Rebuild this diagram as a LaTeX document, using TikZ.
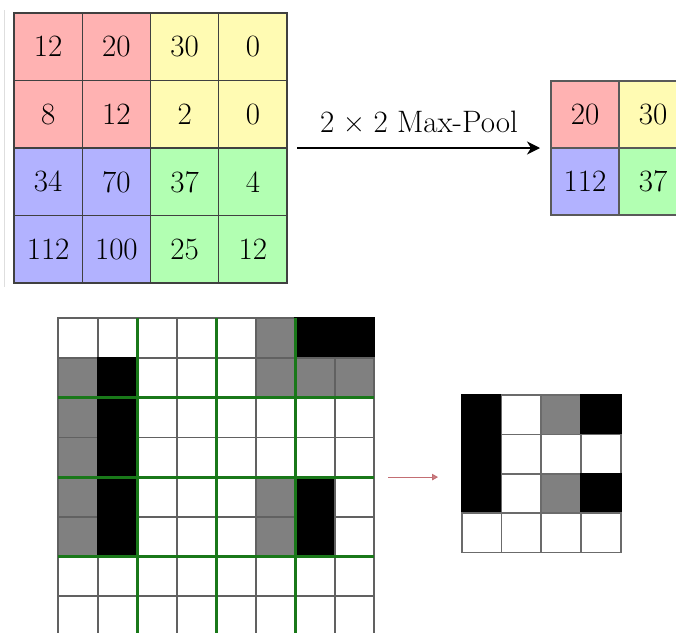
\documentclass[tikz,border=0pt]{standalone}
\usepackage{fontspec}
\usetikzlibrary{arrows.meta}
\colorlet{cR}{red!30}
\colorlet{cY}{yellow!30}
\colorlet{cB}{blue!30}
\colorlet{cG}{green!30}
\definecolor{gridgreen}{RGB}{25,120,25}
\definecolor{arrowred}{RGB}{195,110,115}
\begin{document}
\begin{tikzpicture}[x=1pt,y=-1pt,
  numcell/.style={draw=black!75, line width=1.4pt, minimum width=68.25pt, minimum height=67.5pt,
    inner sep=0pt, outer sep=0pt, anchor=north west, font=\fontsize{31}{34}\selectfont},
  poolcell/.style={draw=black!65, line width=1.4pt, minimum width=68pt, minimum height=67pt,
    inner sep=0pt, outer sep=0pt, anchor=north west, font=\fontsize{31}{34}\selectfont},
  bitcell/.style={draw=black!62, line width=1.8pt, minimum width=39.5pt, minimum height=39.7pt,
    inner sep=0pt, outer sep=0pt, anchor=north west},
  smallcell/.style={draw=black!58, line width=1.7pt, minimum width=39.75pt, minimum height=39.4pt,
    inner sep=0pt, outer sep=0pt, anchor=north west},
  wc/.style={fill=white},
  gc/.style={fill=gray},
  kc/.style={fill=black, draw=black},
  gline/.style={draw=gridgreen, line width=3pt},
  poolarrow/.style={-{Stealth[length=13pt,width=13pt,inset=4pt]}, line width=1.7pt},
  redarrow/.style={draw=arrowred, line width=1pt, -{Triangle[length=6pt,width=6.5pt,fill=arrowred!85]}}
]
\clip (0,0) rectangle (676,632);
\fill[white] (0,0) rectangle (676,632);
% faint left edge line
\draw[black!13, line width=1.5pt] (4.5,10) -- (4.5,287);

% top-left 4x4 input
\foreach \r/\vals in {0/{12/cR,20/cR,30/cY,0/cY},1/{8/cR,12/cR,2/cY,0/cY},
                      2/{34/cB,70/cB,37/cG,4/cG},3/{112/cB,100/cB,25/cG,12/cG}}{
  \foreach \v/\col [count=\c from 0] in \vals {
    \node[numcell, fill=\col] (a\r\c) at ({14+68.25*\c},{13+67.5*\r}) {\v};
  }
}

% top-right pooled output
\node[poolcell, fill=cR] (b00) at (551,81) {20};
\node[poolcell, fill=cY] (b01) at (619,81) {30};
\node[poolcell, fill=cB] (b10) at (551,148) {112};
\node[poolcell, fill=cG] (b11) at (619,148) {37};

\draw[poolarrow, shorten <=10pt, shorten >=11pt] (a13.south east) -- (b00.south west)
  node[midway, above=14pt, inner sep=0pt, font=\fontsize{31}{34}\selectfont] {2\hspace{.27em}×\hspace{.27em}2 Max-Pool};

% bottom-left 8x8 grid
\foreach \r/\vals in {0/{wc,wc,wc,wc,wc,gc,kc,kc},1/{gc,kc,wc,wc,wc,gc,gc,gc},
                      2/{gc,kc,wc,wc,wc,wc,wc,wc},3/{gc,kc,wc,wc,wc,wc,wc,wc},
                      4/{gc,kc,wc,wc,wc,gc,kc,wc},5/{gc,kc,wc,wc,wc,gc,kc,wc},
                      6/{wc,wc,wc,wc,wc,wc,wc,wc},7/{wc,wc,wc,wc,wc,wc,wc,wc}}{
  \foreach \s [count=\c from 0] in \vals {
    \node[bitcell, \s] (c\r\c) at ({58.3+39.5*\c},{318.3+39.7*\r}) {};
  }
}
% green pooling boundaries
\draw[gline] (c01.north east) -- (c71.south east);
\draw[gline] (c03.north east) -- (c73.south east);
\draw[gline] (c05.north east) -- (c75.south east);
\draw[gline] (c10.south west) -- (c17.south east);
\draw[gline] (c30.south west) -- (c37.south east);
\draw[gline] (c50.south west) -- (c57.south east);

% bottom-right 4x4 result
\foreach \r/\vals in {0/{kc,wc,gc,kc},1/{kc,wc,wc,wc},2/{kc,wc,gc,kc},3/{wc,wc,wc,wc}}{
  \foreach \s [count=\c from 0] in \vals {
    \node[smallcell, \s] (d\r\c) at ({461.7+39.75*\c},{395+39.4*\r}) {};
  }
}

\draw[redarrow, shorten <=14pt, shorten >=23.7pt] (c37.south east) -- (c37.south east -| d20.west);
\end{tikzpicture}
\end{document}
